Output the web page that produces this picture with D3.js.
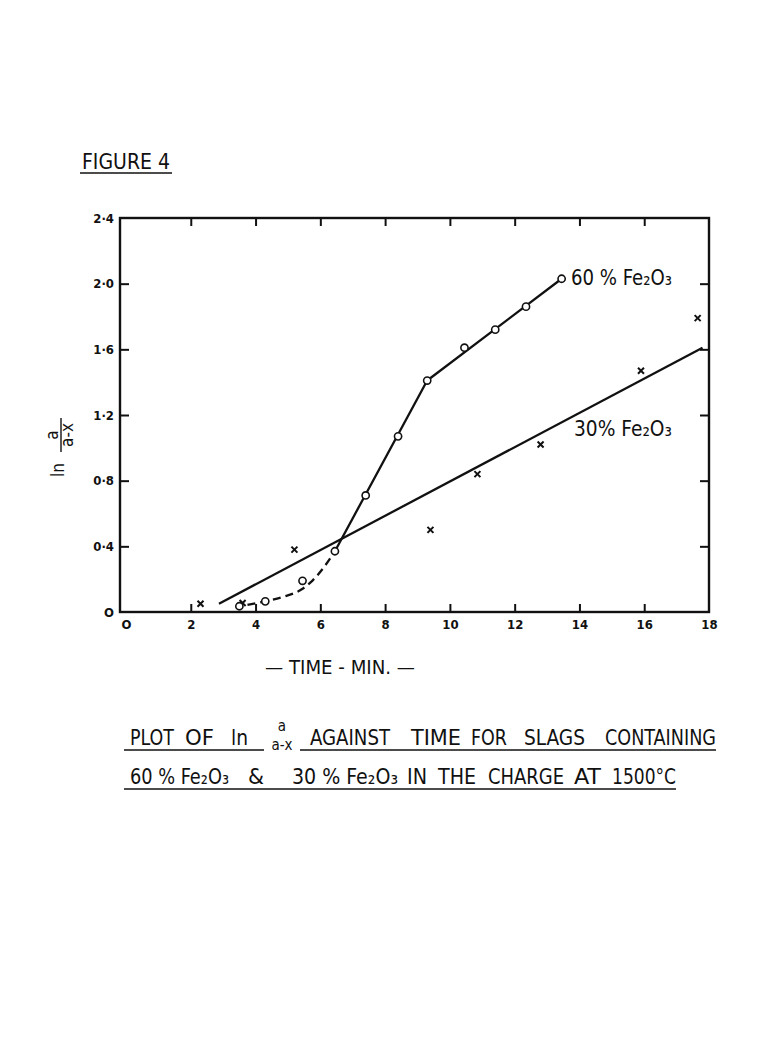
<!DOCTYPE html>
<html>
<head>
<meta charset="utf-8">
<script src="https://cdn.jsdelivr.net/npm/d3@7"></script>
<style>
  body { margin: 0; background: #fff; }
  text { font-family: "Liberation Sans Narrow", "DejaVu Sans Condensed", "Liberation Sans", sans-serif; fill: #111; }
</style>
</head>
<body>
<script>
const w = 757
const h = 1044

// 60% Fe2O3 (open circles)
const sixtyTime = [3.5, 4.3, 5.45, 6.45, 7.4, 8.4, 9.3, 10.45, 11.4, 12.35, 13.45]
const sixtyLn = [0.035, 0.065, 0.19, 0.37, 0.71, 1.07, 1.41, 1.61, 1.72, 1.86, 2.03]
// 30% Fe2O3 (crosses)
const thirtyTime = [2.3, 3.6, 5.2, 9.4, 10.85, 12.8, 15.9, 17.65]
const thirtyLn = [0.05, 0.055, 0.38, 0.5, 0.84, 1.02, 1.47, 1.79]

// drawn lines
const sixtyCurve = [[3.75, 0.043], [4.3, 0.065], [4.9, 0.095], [5.4, 0.135], [5.75, 0.19], [6.1, 0.27], [6.45, 0.37]]
const sixtyFit = [[6.45, 0.37], [9.3, 1.41], [13.45, 2.03]]
const thirtyFit = [[2.87, 0.05], [17.8, 1.61]]

const xTicks = [0, 2, 4, 6, 8, 10, 12, 14, 16, 18]
const yTicks = [0, 0.4, 0.8, 1.2, 1.6, 2.0, 2.4]

const x = d3.scaleLinear().domain([0, 18]).range([126, 709])
const y = d3.scaleLinear().domain([0, 2.4]).range([612, 218])
const left = 120

const svg = d3.select("body").append("svg")
	.attr("width", w).attr("height", h)

const fmt = d => d === 0 ? "O" : d3.format(".1f")(d).replace(".", "·")

// axes
const styleAxis = g => {
	g.select(".domain").remove()
	g.selectAll(".tick line").attr("stroke", "#111").attr("stroke-width", 2)
	g.selectAll(".tick text")
		.attr("font-family", "'Liberation Sans Narrow', 'DejaVu Sans Condensed', sans-serif")
		.attr("font-size", "13px")
		.attr("font-weight", "bold")
		.attr("fill", "#111")
	g.attr("font-family", null).attr("font-size", null)
}

svg.append("g")
	.attr("transform", `translate(0,${y(0)})`)
	.call(d3.axisBottom(x).tickValues(xTicks).tickSize(-8).tickPadding(8).tickFormat(d => d === 0 ? "O" : d))
	.call(styleAxis)
	.call(g => g.selectAll(".tick line").filter(d => d === 0 || d === 18).remove())

svg.append("g")
	.attr("transform", `translate(0,${y(2.4)})`)
	.call(d3.axisTop(x).tickValues(xTicks.slice(1, -1)).tickSize(-8).tickFormat(""))
	.call(styleAxis)

svg.append("g")
	.attr("transform", `translate(${left},0)`)
	.call(d3.axisLeft(y).tickValues(yTicks).tickSize(-9).tickPadding(6).tickFormat(fmt))
	.call(styleAxis)
	.call(g => g.selectAll(".tick line").filter(d => d === 0 || d === 2.4).remove())

svg.append("g")
	.attr("transform", `translate(${x(18)},0)`)
	.call(d3.axisRight(y).tickValues(yTicks.slice(1, -1)).tickSize(-9).tickFormat(""))
	.call(styleAxis)

svg.append("rect")
	.attr("x", left).attr("y", y(2.4))
	.attr("width", x(18) - left).attr("height", y(0) - y(2.4))
	.attr("fill", "none")
	.attr("stroke", "#111")
	.attr("stroke-width", 2.4)

// lines
const line = d3.line().x(d => x(d[0])).y(d => y(d[1]))

svg.append("path")
	.attr("d", line(thirtyFit))
	.attr("fill", "none").attr("stroke", "#111").attr("stroke-width", 2.3)

svg.append("path")
	.attr("d", line(sixtyFit))
	.attr("fill", "none").attr("stroke", "#111").attr("stroke-width", 2.3)
	.attr("stroke-linejoin", "round")

svg.append("path")
	.attr("d", line.curve(d3.curveMonotoneX)(sixtyCurve))
	.attr("fill", "none").attr("stroke", "#111").attr("stroke-width", 2.3)
	.attr("stroke-dasharray", "8,5")

// points
svg.selectAll(".cross")
	.data(thirtyTime)
	.enter()
	.append("path")
	.attr("class", "cross")
	.attr("transform", (d, i) => `translate(${x(d)},${y(thirtyLn[i])})`)
	.attr("d", "M-3,-3L3,3M-3,3L3,-3")
	.attr("stroke", "#111").attr("stroke-width", 2)

svg.selectAll(".ring")
	.data(sixtyTime)
	.enter()
	.append("circle")
	.attr("class", "ring")
	.attr("cx", d => x(d))
	.attr("cy", (d, i) => y(sixtyLn[i]))
	.attr("r", 3.6)
	.attr("fill", "#fff").attr("stroke", "#111").attr("stroke-width", 1.6)

// series labels
svg.append("text")
	.attr("x", 571).attr("y", 285)
	.attr("font-size", "21px")
	.attr("textLength", 101).attr("lengthAdjust", "spacingAndGlyphs")
	.text("60 % Fe₂O₃")

svg.append("text")
	.attr("x", 574).attr("y", 436)
	.attr("font-size", "21px")
	.attr("textLength", 98).attr("lengthAdjust", "spacingAndGlyphs")
	.text("30% Fe₂O₃")

// y axis title
const yt = svg.append("g").attr("transform", "translate(61,445) rotate(-90)")
yt.append("text").attr("x", -25).attr("y", 3).attr("text-anchor", "middle")
	.attr("font-size", "17px").text("ln")
yt.append("text").attr("x", 10).attr("y", -3).attr("text-anchor", "middle")
	.attr("font-size", "17px").text("a")
yt.append("line").attr("x1", -7).attr("x2", 27).attr("y1", 0).attr("y2", 0)
	.attr("stroke", "#111").attr("stroke-width", 1.4)
yt.append("text").attr("x", 10).attr("y", 12).attr("text-anchor", "middle")
	.attr("font-size", "17px").text("a-x")

// headings
svg.append("text")
	.attr("x", 82).attr("y", 169)
	.attr("font-size", "22px")
	.attr("textLength", 88).attr("lengthAdjust", "spacingAndGlyphs")
	.text("FIGURE  4")
svg.append("line")
	.attr("x1", 80).attr("x2", 172).attr("y1", 173).attr("y2", 173)
	.attr("stroke", "#111").attr("stroke-width", 1.6)

svg.append("text")
	.attr("x", 265).attr("y", 674)
	.attr("font-size", "20px")
	.attr("textLength", 150).attr("lengthAdjust", "spacingAndGlyphs")
	.text("— TIME - MIN. —")

// caption words: text, left x, width
const line1 = [["PLOT", 130, 44], ["OF", 185, 29], ["ln", 231, 17], ["AGAINST", 310, 80], ["TIME", 411, 50], ["FOR", 471, 36], ["SLAGS", 524, 61], ["CONTAINING", 605, 111]]
const line2 = [["60 % Fe₂O₃", 130, 99], ["&", 248, 16], ["30 % Fe₂O₃", 292, 106], ["IN", 407, 20], ["THE", 438, 38], ["CHARGE", 488, 76], ["AT", 574, 27], ["1500°C", 612, 64]]

svg.selectAll(".w1")
	.data(line1)
	.enter()
	.append("text")
	.attr("class", "w1")
	.attr("x", d => d[1]).attr("y", 745)
	.attr("font-size", "22px")
	.attr("textLength", d => d[2]).attr("lengthAdjust", "spacingAndGlyphs")
	.text(d => d[0])

svg.selectAll(".w2")
	.data(line2)
	.enter()
	.append("text")
	.attr("class", "w2")
	.attr("x", d => d[1]).attr("y", 784)
	.attr("font-size", "22px")
	.attr("textLength", d => d[2]).attr("lengthAdjust", "spacingAndGlyphs")
	.text(d => d[0])

// fraction in the caption
svg.append("text").attr("x", 282).attr("y", 731).attr("text-anchor", "middle")
	.attr("font-size", "15px").text("a")
svg.append("text").attr("x", 282).attr("y", 750).attr("text-anchor", "middle")
	.attr("font-size", "15px").text("a-x")

// underlines
const rules = [[124, 264, 750], [300, 716, 750], [124, 676, 789]]
svg.selectAll(".rule")
	.data(rules)
	.enter()
	.append("line")
	.attr("class", "rule")
	.attr("x1", d => d[0]).attr("x2", d => d[1])
	.attr("y1", d => d[2]).attr("y2", d => d[2])
	.attr("stroke", "#111").attr("stroke-width", 1.6)
</script>
</body>
</html>
